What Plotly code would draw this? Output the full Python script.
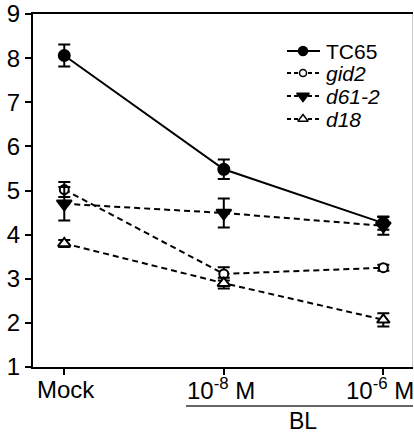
import plotly.graph_objects as go

categories = ["Mock", "10<sup>-8</sup> M", "10<sup>-6</sup> M"]
tc65 = [8.06, 5.48, 4.26]
tc65_err = [0.25, 0.22, 0.15]
gid2 = [5.02, 3.11, 3.25]
gid2_err = [0.17, 0.15, 0.07]
d61_2 = [4.70, 4.49, 4.20]
d61_2_err = [0.38, 0.33, 0.20]
d18 = [3.80, 2.90, 2.07]
d18_err = [0.08, 0.12, 0.15]
legend_names = ["TC65", "<i>gid2</i>", "<i>d61-2</i>", "<i>d18</i>"]

W, H = 414, 434
L, R, T, B = 33, 1, 14, 67
FONT = "Liberation Sans, Arial, sans-serif"

xs = [0, 1, 2]
styles = [
    ("circle", "black", "solid", 11),
    ("circle", "white", "6px,4px", 9),
    ("triangle-down", "black", "6px,4px", 13),
    ("triangle-up", "white", "6px,4px", 11),
]
data = [(tc65, tc65_err), (gid2, gid2_err), (d61_2, d61_2_err), (d18, d18_err)]

fig = go.Figure()
for (ys, err), (sym, fill, dash, size), name in zip(data, styles, legend_names):
    fig.add_trace(go.Scatter(
        x=xs, y=ys, name=name, mode="lines+markers", showlegend=False,
        line=dict(color="black", width=2, dash=dash),
        marker=dict(symbol=sym, size=size, color=fill, line=dict(color="black", width=2)),
        error_y=dict(type="data", array=err, visible=True, color="black", thickness=2, width=6),
    ))

# manual legend drawn on a pixel-coordinate overlay axis
leg_rows = [51, 73, 96, 119]
for (sym, fill, dash, size), name, ry in zip(styles, legend_names, leg_rows):
    fig.add_trace(go.Scatter(
        x=[287, 320], y=[ry, ry], mode="lines", xaxis="x2", yaxis="y2", showlegend=False,
        line=dict(color="black", width=2, dash="4px,3px" if dash != "solid" else "solid"),
        hoverinfo="skip"))
    fig.add_trace(go.Scatter(
        x=[303], y=[ry], mode="markers", xaxis="x2", yaxis="y2", showlegend=False,
        marker=dict(symbol=sym, size=size - 2, color=fill, line=dict(color="black", width=1.5)),
        hoverinfo="skip"))
    fig.add_annotation(text=name, xref="x2", yref="y2", x=324, y=ry, xanchor="left",
                       yanchor="middle", showarrow=False, font=dict(size=21, family=FONT))

fig.update_layout(
    width=W, height=H,
    margin=dict(l=L, r=R, t=T, b=B, autoexpand=False),
    paper_bgcolor="white", plot_bgcolor="white",
    font=dict(family=FONT, size=24, color="black"),
    showlegend=False,
    xaxis=dict(range=[-0.196, 2.186], tickmode="array", tickvals=xs, ticktext=["", "", ""],
               showgrid=False, zeroline=False, showline=True, linecolor="black", linewidth=2,
               mirror=True,
               ticks="outside", ticklen=6, tickwidth=2, tickcolor="black", automargin=False),
    yaxis=dict(range=[1, 9], tickmode="array", tickvals=list(range(1, 10)),
               showgrid=False, zeroline=False, showline=True, linecolor="black", linewidth=2,
               ticks="outside", ticklen=6, tickwidth=2, tickcolor="black",
               tickfont=dict(size=24), automargin=False),
    xaxis2=dict(range=[L, W - R], overlaying="x", visible=False, domain=[0, 1]),
    yaxis2=dict(range=[H - B, T], overlaying="y", visible=False, domain=[0, 1]),
)

pw = W - L - R
ph = H - T - B

def px_x(x):
    return (x - L) / pw

def px_y(y):
    return (H - B - y) / ph

# category labels below axis
label_pos = [66, 221, 380]
for cat, lx in zip(categories, label_pos):
    fig.add_annotation(text=cat, xref="paper", yref="paper", x=px_x(lx), y=px_y(389),
                       showarrow=False, font=dict(size=24, family=FONT),
                       xanchor="center", yanchor="middle")

# BL bracket line and label
fig.add_shape(type="line", xref="paper", yref="paper",
              x0=px_x(186), x1=px_x(413), y0=px_y(406), y1=px_y(406),
              line=dict(color="#333333", width=1.5))
fig.add_annotation(text="BL", xref="paper", yref="paper", x=px_x(303), y=px_y(421),
                   showarrow=False, font=dict(size=23, family=FONT),
                   xanchor="center", yanchor="middle")
fig.add_shape(type="line", xref="paper", yref="paper",
              x0=px_x(412.5), x1=px_x(412.5), y0=px_y(14), y1=px_y(367),
              line=dict(color="#cccccc", width=1))

fig.write_html("out.html", config={"displayModeBar": False},
               post_script="document.body.style.margin='0';document.body.style.overflow='hidden';")
